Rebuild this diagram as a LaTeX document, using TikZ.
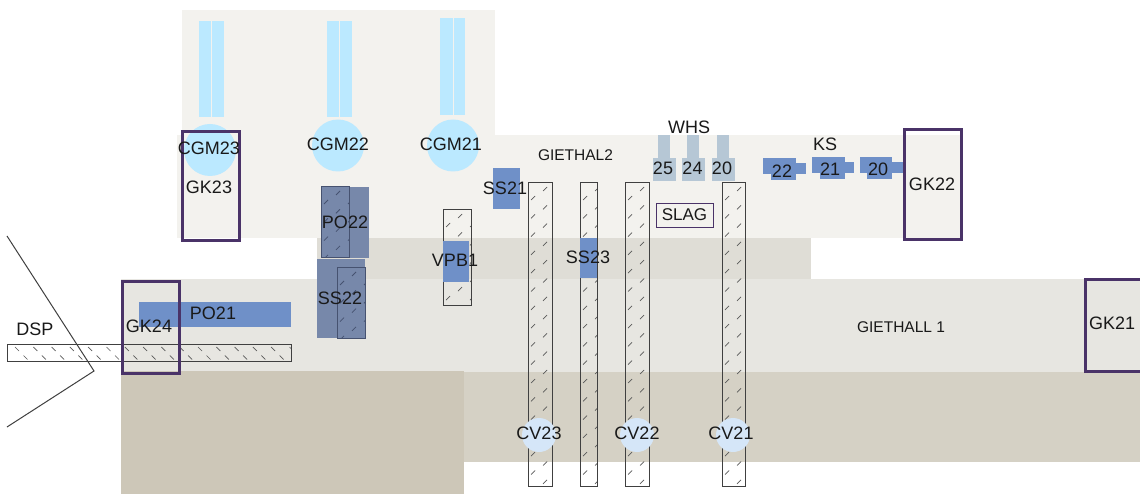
\documentclass[tikz,border=0pt]{standalone}
\usepackage{fontspec}
\setmainfont{Liberation Sans}
\definecolor{hallA}{HTML}{F3F2EE}
\definecolor{hallB}{HTML}{DFDDD6}
\definecolor{hallC}{HTML}{E7E6E1}
\definecolor{floorA}{HTML}{CDC7B8}
\definecolor{floorB}{HTML}{D5D1C5}
\definecolor{cgm}{HTML}{BBE9FF}
\definecolor{cv}{HTML}{D5E6F8}
\definecolor{blueA}{HTML}{6F90C8}
\definecolor{blueB}{HTML}{7788AA}
\definecolor{whs}{HTML}{B6C7D5}
\definecolor{gk}{HTML}{4A3368}
\definecolor{hatchdim}{HTML}{465270}
\tikzset{
  x=1pt,y=-1pt,
  gkbox/.style={draw=gk,line width=3pt},
  barline/.style={draw=black!75,line width=1pt},
  hatchmark/.style={draw=black!65,line width=.7pt},
  lab/.style={font=\fontsize{18}{20}\selectfont,text=black!90,inner sep=0pt},
  labsmall/.style={font=\fontsize{15.5}{18}\selectfont,text=black!90,inner sep=0pt},
  labmid/.style={font=\fontsize{17}{20}\selectfont,text=black!90,inner sep=0pt},
}
\newcommand\hatchV[4]{%
  \begin{scope}
    \clip (#1,#2) rectangle (#3,#4);
    \foreach \i in {0,...,16}{
      \foreach \j in {0,1,2}{
        \pgfmathsetmacro\xx{#1+5+12*\j}
        \pgfmathsetmacro\yy{#2+6+18.3*\i+9*mod(\j+1,2)}
        \draw[hatchmark] ({\xx-2},{\yy+2}) -- ({\xx+2},{\yy-2});
      }
    }
  \end{scope}
  \draw[barline] (#1,#2) rectangle (#3,#4);
}
\begin{document}
\begin{tikzpicture}
\useasboundingbox (0,0) rectangle (1140,494);
\fill[white] (0,0) rectangle (1140,494);
% halls
\fill[hallA] (182,10) rectangle (495,238);
\fill[hallA] (177,135) rectangle (961,238);
\fill[hallB] (317,238) rectangle (811,279);
\fill[hallC] (121,279) rectangle (1140,372);
\fill[floorA] (121,371) rectangle (464,494);
\fill[floorB] (464,372) rectangle (1140,462);
% CGM
\foreach \a/\b/\c/\t/\bt in {199/211/224/21/117,327/339/352/21/117,440/453/465/18/115}{
  \fill[cgm] (\a,\t) rectangle (\c,\bt);
  \draw[hallA,line width=.8pt] (\b,\t) -- (\b,\bt);
}
\fill[cgm] (210,150) circle (26);
\fill[cgm] (338,145.5) circle (26);
\fill[cgm] (453,145.5) circle (26);
% blue gear
\fill[blueB] (321,187) rectangle (369,258);
\fill[blueB] (317,259) rectangle (365,338);
\fill[blueA] (139,302) rectangle (291,327);
\fill[blueA] (493,168) rectangle (520,209);
% WHS
\foreach \s/\bx in {658/653,687/682,717/712}{
  \fill[whs] (\s,135) rectangle ({\s+12},158);
  \fill[whs] (\bx,158) rectangle ({\bx+22.5},181);
}
% KS
\foreach \a/\b/\c/\d/\t in {763/771/796/806/158,812/820/845/854/157,860/867/892/903/157}{
  \fill[blueA] (\a,\t) rectangle (\c,{\t+16});
  \fill[blueA] (\b,{\t+16}) rectangle (\c,{\t+22});
  \fill[blueA] (\c,{\t+5}) rectangle (\d,{\t+16});
}
% hatched bars
\begin{scope}[hatchmark/.style={draw=hatchdim,line width=.8pt},barline/.style={draw=hatchdim,line width=1pt}]
\hatchV{321}{187}{349}{258}
\hatchV{337}{268}{365}{338}
\end{scope}
\hatchV{443}{210}{471}{305}
\hatchV{528}{183}{552}{486}
\hatchV{580}{183}{597}{486}
\hatchV{625}{183}{649}{486}
\hatchV{722}{183}{745}{486}
\fill[blueA] (443,241) rectangle (469,282);
\fill[blueA] (580,238) rectangle (597,278);
% DSP bar
\begin{scope}
  \clip (7,344) rectangle (291,361);
  \foreach \i in {0,...,15}{
    \draw[hatchmark] ({15+18.3*\i},347) -- ({19+18.3*\i},351);
    \draw[hatchmark] ({23.5+18.3*\i},355.5) -- ({27.5+18.3*\i},359.5);
  }
\end{scope}
\draw[barline] (7,344) rectangle (291,361);
% DSP wedge
\coordinate (dspA) at (7,236);
\coordinate (dspB) at (94,371);
\coordinate (dspC) at (7,427);
\draw[draw=black!75,line width=1pt] (dspA) -- (dspB) -- (dspC);
% CV
\fill[cv] (539,435) circle (17);
\fill[cv] (637,435) circle (17);
\fill[cv] (733,435) circle (17);
% SLAG
\node[draw=gk,fill=hallA,line width=.8pt,minimum width=57pt,minimum height=24pt,inner sep=0pt,labmid] (slag) at (684.5,215) {SLAG};
% gates
\draw[gkbox] (122,282) rectangle (179,373);
\draw[gkbox] (182,132) rectangle (239,241);
\draw[gkbox] (904,130) rectangle (961,240);
\draw[gkbox] (1085,280) rectangle (1145,371);
% labels
\node[lab] (ldsp) at (35,329) {DSP};
\node[lab] (lgk24) at (149,326) {GK24};
\node[lab] (lpo21) at (213,313) {PO21};
\node[lab] (lpo22) at (345,222) {PO22};
\node[lab] (lss22) at (340,298) {SS22};
\node[lab] (lgk23) at (209,187) {GK23};
\node[lab] (lcgm23) at (209,148) {CGM23};
\node[lab] (lcgm22) at (338,144) {CGM22};
\node[lab] (lcgm21) at (451,144) {CGM21};
\node[lab] (lss21) at (505,188) {SS21};
\node[labsmall] (lg2) at (575.5,155) {GIETHAL2};
\node[lab] (lvpb) at (455,260) {VPB1};
\node[lab] (lss23) at (588,257) {SS23};
\node[lab] (lwhs) at (689,127) {WHS};
\node[lab] (lw25) at (663,168) {25};
\node[lab] (lw24) at (692.5,168) {24};
\node[lab] (lw20) at (722,168) {20};
\node[lab] (lks) at (825,144) {KS};
\node[lab] (lk22) at (782,171) {22};
\node[lab] (lk21) at (830,169) {21};
\node[lab] (lk20) at (878,169) {20};
\node[lab] (lgk22) at (932,184) {GK22};
\node[labsmall] (lg1) at (901,327) {GIETHALL 1};
\node[lab] (lgk21) at (1112,323) {GK21};
\node[lab] (lcv23) at (539,433) {CV23};
\node[lab] (lcv22) at (637,433) {CV22};
\node[lab] (lcv21) at (731,433) {CV21};
\end{tikzpicture}
\end{document}
